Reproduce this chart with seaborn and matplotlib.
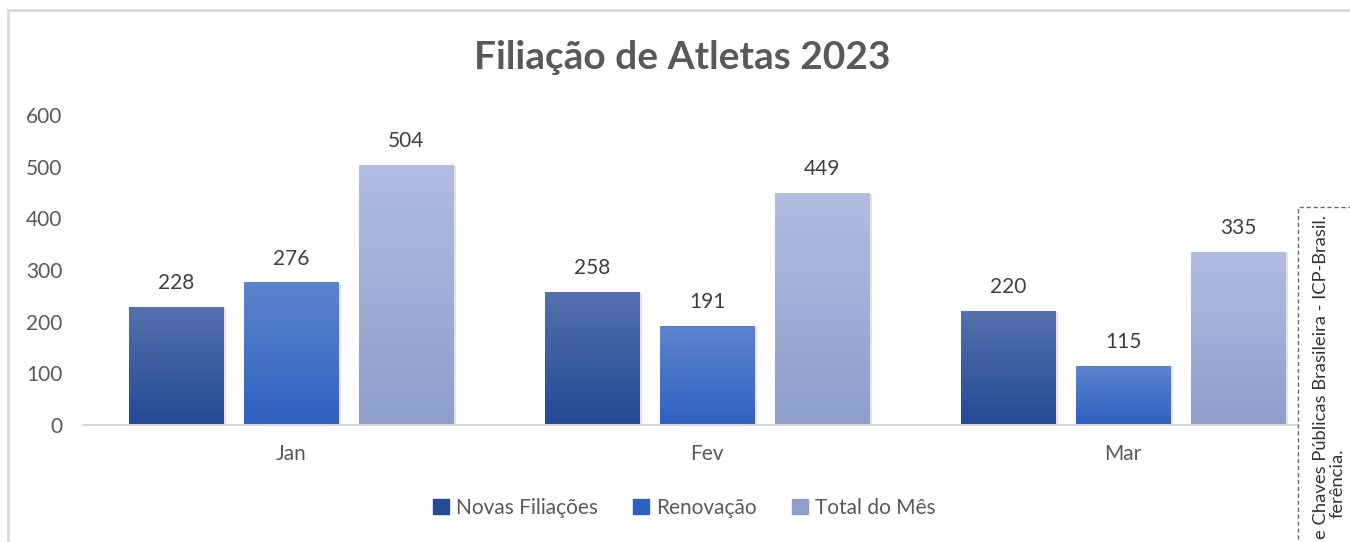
import numpy as np
import pandas as pd
import matplotlib
matplotlib.use("Agg")
import matplotlib.pyplot as plt
import seaborn as sns
from matplotlib.colors import LinearSegmentedColormap
from matplotlib.patches import Rectangle

months = ["Jan", "Fev", "Mar"]
series = ["Novas Filiações", "Renovação", "Total do Mês"]
novas = [228, 258, 220]
renovacao = [276, 191, 115]
total = [504, 449, 335]

# gradient (top, bottom) for each series
grad_colors = {
    "Novas Filiações": ("#5670ad", "#234a93"),
    "Renovação": ("#5d84cf", "#2e61bf"),
    "Total do Mês": ("#b1bde1", "#8e9ecb"),
}

df = pd.DataFrame({
    "mes": months * 3,
    "serie": [s for s in series for _ in months],
    "valor": novas + renovacao + total,
})

sns.set_style("white")
plt.rcParams["font.family"] = ["Lato", "DejaVu Sans"]

fig = plt.figure(figsize=(13.5, 5.42), dpi=100)
ax = fig.add_axes([0.0615, 0.2159, 0.9245, 0.5719])

palette = {s: grad_colors[s][1] for s in series}
sns.barplot(data=df, x="mes", y="valor", hue="serie", order=months,
            hue_order=series, palette=palette, width=0.83, gap=0.18,
            ax=ax, legend=False, saturation=1)

grad = np.linspace(0, 1, 256).reshape(-1, 1)
for cont, s in zip(ax.containers, series):
    top, bottom = grad_colors[s]
    cmap = LinearSegmentedColormap.from_list(s, [bottom, top])
    for p in cont.patches:
        x0, y0 = p.get_x(), p.get_y()
        w, h = p.get_width(), p.get_height()
        # soft shadow
        ax.add_patch(Rectangle((x0 + 0.006, y0), w, h - 2, color="#000000",
                               alpha=0.12, zorder=p.get_zorder() - 0.2, lw=0))
        im = ax.imshow(grad, extent=[x0, x0 + w, y0, y0 + h], origin="lower",
                       cmap=cmap, aspect="auto", zorder=p.get_zorder() + 0.1)
        im.set_clip_path(p)
    ax.bar_label(cont, padding=10, fontsize=15, color="#404040")

ax.set_xlim(-0.5, 2.5)
ax.set_ylim(0, 600)
ax.set_yticks(range(0, 601, 100))
ax.set_xlabel("")
ax.set_ylabel("")
ax.tick_params(axis="both", length=0, labelsize=15, labelcolor="#595959")
ax.tick_params(axis="y", pad=15)
ax.tick_params(axis="x", pad=14)
for side in ["top", "right", "left"]:
    ax.spines[side].set_visible(False)
ax.spines["bottom"].set_color("#d9d9d9")
ax.spines["bottom"].set_linewidth(1.5)

fig.text(0.505, 0.893, "Filiação de Atletas 2023", ha="center", va="center",
         fontsize=28, fontweight="bold", color="#595959")

handles = [Rectangle((0, 0), 1, 1, color=grad_colors[s][1]) for s in series]
fig.legend(handles, series, loc="center", bbox_to_anchor=(0.507, 0.063), ncol=3,
           frameon=False, fontsize=15, labelcolor="#595959", handlelength=0.75,
           handleheight=0.75, handletextpad=0.35, columnspacing=1.7)

# chart border (cropped)
fig.add_artist(Rectangle((8 / 1350, -0.1), 1.2, (532 / 542) + 0.1,
                         transform=fig.transFigure, fill=False,
                         edgecolor="#d9d9d9", lw=2))

# signature stamp overlapping the right edge
fig.add_artist(Rectangle((1298 / 1350, -0.1), 0.2, (335 / 542) + 0.1,
                         transform=fig.transFigure, facecolor="white",
                         edgecolor="#666666", lw=1.0, ls=(0, (3, 2)), zorder=5))
fig.text(1321 / 1350, 1 - 215 / 542, "e Chaves Públicas Brasileira - ICP-Brasil.",
         rotation=90, ha="center", va="top", fontsize=13.2, color="#333333", zorder=6)
fig.text(1338 / 1350, 1 - 448 / 542, "ferência.",
         rotation=90, ha="center", va="top", fontsize=13.2, color="#333333", zorder=6)

fig.savefig("out.png", dpi=100, facecolor="white")
